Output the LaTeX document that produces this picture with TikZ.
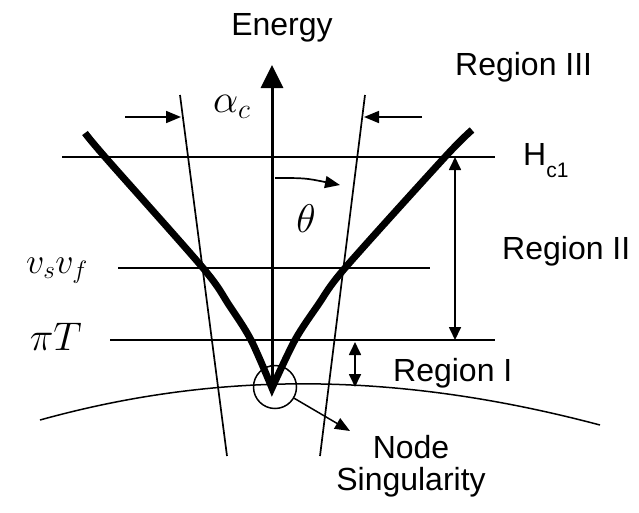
\RequirePackage{fix-cm}
\documentclass[tikz,border=0pt]{standalone}
\usepackage{fontspec}
\setmainfont{Liberation Sans}
\usetikzlibrary{arrows.meta}
\begin{document}
\begin{tikzpicture}[x=1pt,y=-1pt,
  thinl/.style={line width=1.7pt},
  vline/.style={line width=7pt,line join=miter,miter limit=20},
  lbl/.style={font=\fontsize{32}{32}\selectfont, inner sep=0pt},
  mlbl/.style={font=\fontsize{40}{40}\selectfont, inner sep=0pt},
  slbl/.style={font=\fontsize{36}{36}\selectfont, inner sep=0pt},
  tipa/.style={-{Triangle[length=15pt,width=12pt]}},
  dtip/.style={{Triangle[length=13pt,width=12pt]}-{Triangle[length=13pt,width=12pt]}}]
\useasboundingbox (0,0) rectangle (639,512);
% coordinates
\coordinate (axB) at (272,388);
\coordinate (axT) at (272,65);
\coordinate (hL) at (62,157);  \coordinate (hR) at (495,157);
\coordinate (vL) at (118,268); \coordinate (vR) at (430,268);
\coordinate (pL) at (110,340); \coordinate (pR) at (495,340);
\coordinate (lT) at (180,95);  \coordinate (lB) at (227,456);
\coordinate (rT) at (365,95);  \coordinate (rB) at (320,456);
\coordinate (a1s) at (125,117); \coordinate (a1e) at (181,117);
\coordinate (a2s) at (422,117); \coordinate (a2e) at (364,117);
\coordinate (th1) at (275,178); \coordinate (th2) at (340,185);
\coordinate (d1t) at (455,157); \coordinate (d1b) at (455,340);
\coordinate (d2t) at (355,342); \coordinate (d2b) at (355,387);
\coordinate (arcL) at (40,420); \coordinate (arcR) at (600,425);
\coordinate (nsTip) at (350,431);
% horizontal lines
\draw[thinl] (hL) -- (hR);
\draw[thinl] (vL) -- (vR);
\draw[thinl] (pL) -- (pR);
% slanted lines
\draw[thinl] (lT) -- (lB);
\draw[thinl] (rT) -- (rB);
% arc (Fermi surface)
\draw[line width=1.5pt] (arcL) .. controls (220,370) and (400,372) .. (arcR);
% energy axis
\draw[line width=3pt,-{Triangle[length=23pt,width=22pt]}] (axB) -- (axT);
% V dispersion
\draw[vline] plot[smooth] coordinates {(85,133) (105,157) (203,268) (229,305) (251,340) (272,388)}
  -- plot[smooth] coordinates {(272,388) (295,340) (318,305) (345,268) (445,157) (472,130)};
% alpha_c arrows
\draw[thinl,tipa] (a1s) -- (a1e);
\draw[thinl,tipa] (a2s) -- (a2e);
% theta arrow
\draw[thinl,tipa] (th1) .. controls (305,178) .. (th2);
% region arrows
\draw[thinl,dtip] (d1t) -- (d1b);
\draw[thinl,dtip] (d2t) -- (d2b);
% node circle
\node[draw,circle,line width=1.5pt,minimum size=43pt,inner sep=0pt] (ns) at (275,387) {};
\draw[line width=1.5pt,tipa] (ns) -- (nsTip);
% labels
\node[lbl,anchor=base] (energy) at (282,35) {Energy};
\node[lbl,anchor=base west] (r3) at (455,75) {Region III};
\node[lbl,anchor=base west] (r2) at (502,259) {Region II};
\node[lbl,anchor=base west] (r1) at (393,381) {Region I};
\node[lbl,anchor=base west] (hc) at (523,165) {H\raisebox{-12pt}{\fontsize{21}{21}\selectfont c1}};
\node[lbl,anchor=base] (nd) at (411,458) {Node};
\node[lbl,anchor=base] (sg) at (411,490) {Singularity};
\node[mlbl,anchor=base west] (ac) at (213,112) {$\alpha_c$};
\node[mlbl,anchor=base] (th) at (306,232) {$\theta$};
\node[slbl,anchor=base east] (vv) at (88,273) {$v_s v_f$};
\node[mlbl,anchor=base east] (pt) at (82,350) {$\pi T$};
\end{tikzpicture}
\end{document}
